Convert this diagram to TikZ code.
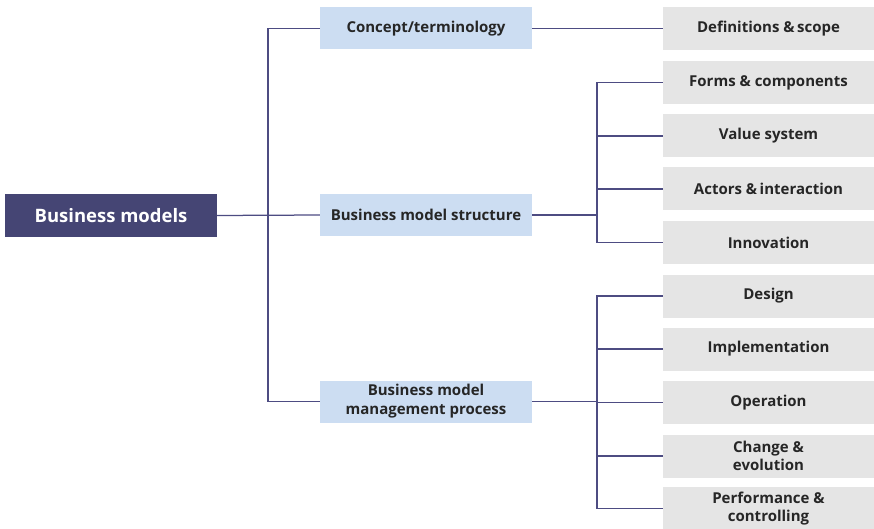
\documentclass[tikz,border=0pt]{standalone}
\usepackage{fontspec}
\setmainfont{Open Sans}
\definecolor{rootfill}{HTML}{454574}
\definecolor{midfill}{HTML}{CCDDF2}
\definecolor{leaffill}{HTML}{E5E5E5}
\definecolor{linec}{HTML}{4D4C82}
\definecolor{textc}{HTML}{262626}
\tikzset{
  rootbox/.style={rectangle, fill=rootfill, text=white, minimum width=212pt, minimum height=43pt, inner sep=0pt, font=\fontsize{18.5}{22}\selectfont\bfseries},
  midbox/.style={rectangle, fill=midfill, text=textc, minimum width=212pt, minimum height=42pt, inner sep=0pt, align=center, font=\fontsize{15}{19}\selectfont\bfseries},
  leafbox/.style={rectangle, fill=leaffill, text=textc, minimum width=211pt, minimum height=43pt, inner sep=0pt, align=center, font=\fontsize{15}{18.5}\selectfont\bfseries},
  conn/.style={draw=linec, line width=1.25pt}
}
\begin{document}
\begin{tikzpicture}[x=1pt, y=-1pt]
\useasboundingbox (0,0) rectangle (874,529);
\node[rootbox] (root) at (111,215.5) {Business models};
\node[midbox] (c1) at (426,28.5) {Concept/terminology};
\node[midbox] (c2) at (426,215) {Business model structure};
\node[midbox] (c3) at (426,401.5) {Business model\\management process};
\node[leafbox] (l0) at (768.5,28.5) {Definitions \&\,scope};
\node[leafbox] (l1) at (768.5,82.5) {Forms \& components};
\node[leafbox] (l2) at (768.5,136) {Value system};
\node[leafbox] (l3) at (768.5,189) {Actors \&\,interaction};
\node[leafbox] (l4) at (768.5,242.5) {Innovation};
\node[leafbox] (l5) at (768.5,296) {Design};
\node[leafbox] (l6) at (768.5,349) {Implementation};
\node[leafbox] (l7) at (768.5,402.5) {Operation};
\node[leafbox] (l8) at (768.5,456) {Change \&\\evolution};
\node[leafbox] (l9) at (768.5,508.5) {Performance \&\\controlling};
\coordinate (t) at (268,215.5);
\coordinate (s) at (597,215);
\coordinate (m) at (597,401.5);
\draw[conn] (root.east) -- (c2.west);
\draw[conn] (c1.west) -| (t) |- (c3.west);
\draw[conn] (c1.east) -- (l0.west);
\draw[conn] (c2.east) -- (s);
\foreach \n in {l1,l2,l3,l4} \draw[conn] (s) |- (\n.west);
\draw[conn] (c3.east) -- (m);
\foreach \n in {l5,l6,l7,l8,l9} \draw[conn] (m) |- (\n.west);
\end{tikzpicture}
\end{document}
